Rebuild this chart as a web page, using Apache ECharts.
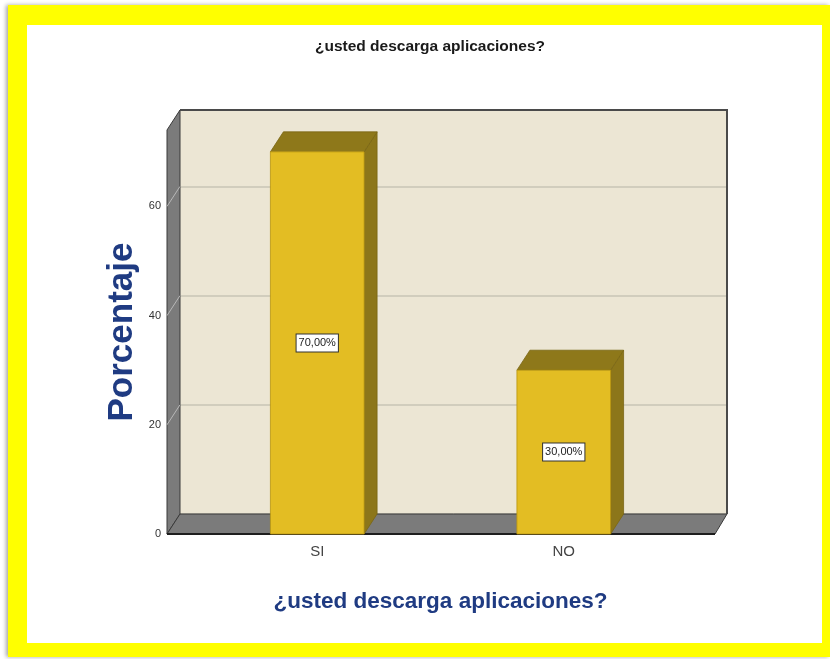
<!DOCTYPE html>
<html>
<head>
<meta charset="utf-8">
<script src="https://cdn.jsdelivr.net/npm/echarts@6/dist/echarts.min.js"></script>
<style>
html,body{margin:0;padding:0;background:#ffffff;}
#chart{width:830px;height:659px;}
</style>
</head>
<body>
<div id="chart"></div>
<script>
const categories = ['SI', 'NO'];
const percentages = [70, 30];
const yTicks = [0, 20, 40, 60];
const titleText = '¿usted descarga aplicaciones?';
const xAxisTitle = '¿usted descarga aplicaciones?';
const yAxisTitle = 'Porcentaje';

const DX = 13, DY = -20;
const chart = echarts.init(document.getElementById('chart'), null, {renderer: 'canvas'});

function fmt(v) { return v.toFixed(2).replace('.', ',') + '%'; }

const option = {
  animation: false,
  backgroundColor: '#ffffff',
  title: {
    text: titleText,
    left: 425, top: 34, textAlign: 'center',
    textStyle: {fontFamily: 'Liberation Sans, Arial, sans-serif', fontSize: 15.5, fontWeight: 'bold', color: '#1a1a1a'}
  },
  graphic: {elements: [
    {type: 'rect', z: -20, shape: {x: 8, y: 5, width: 822, height: 652},
     style: {fill: '#ffff00', shadowBlur: 4, shadowColor: 'rgba(0,0,0,0.35)', shadowOffsetX: -2}},
    {type: 'rect', z: -19, shape: {x: 27, y: 25, width: 795, height: 618}, style: {fill: '#ffffff'}}
  ]},
  grid: [
    {left: 194, right: 143, top: 130, bottom: 125},
    {left: 180, right: 103, top: 110, bottom: 145, show: true, backgroundColor: '#ece6d4', borderWidth: 0}
  ],
  xAxis: [
    {type: 'category', gridIndex: 0, data: categories,
     axisLine: {show: false}, axisTick: {show: false},
     axisLabel: {margin: 10, fontSize: 15, color: '#444', fontFamily: 'Liberation Sans, Arial, sans-serif'},
     name: xAxisTitle, nameLocation: 'middle', nameGap: 56, nameMoveOverlap: false,
     nameTextStyle: {fontSize: 22.5, fontWeight: 'bold', color: '#1f3b82', fontFamily: 'Liberation Sans, Arial, sans-serif'}},
    {type: 'category', gridIndex: 1, data: categories, show: false}
  ],
  yAxis: [
    {type: 'value', gridIndex: 0, min: 0, max: 74, interval: 20,
     axisLine: {show: false}, axisTick: {show: false}, splitLine: {show: false},
     axisLabel: {margin: 33, fontSize: 11, color: '#333', showMaxLabel: false,
       fontFamily: 'Liberation Sans Narrow, Arial Narrow, sans-serif'},
     name: yAxisTitle, nameLocation: 'middle', nameGap: 54, nameMoveOverlap: false,
     nameTextStyle: {fontSize: 35, fontWeight: 'bold', color: '#1f3b82', fontFamily: 'Liberation Sans, Arial, sans-serif'}},
    {type: 'value', gridIndex: 1, min: 0, max: 74, interval: 20,
     axisLine: {show: false}, axisTick: {show: false}, axisLabel: {show: false},
     splitLine: {show: true, showMaxLine: false, lineStyle: {color: '#c9c4b6', width: 1.5}}}
  ],
  series: [
    {
      type: 'custom', xAxisIndex: 0, yAxisIndex: 0, z: 1, silent: true,
      data: [[0]],
      renderItem: function (params, api) {
        const cs = params.coordSys;
        const X0 = cs.x - 27, X1 = cs.x + cs.width + 28;
        const yTop = cs.y, yBot = cs.y + cs.height;
        const children = [];
        children.push({type: 'polygon', shape: {points: [[X0, yTop], [X0 + DX, yTop + DY], [X0 + DX, yBot + DY], [X0, yBot]]},
          style: {fill: '#7b7b7b', stroke: '#3a3a3a', lineWidth: 1}});
        children.push({type: 'polygon', shape: {points: [[X0, yBot], [X0 + DX, yBot + DY], [X1 + DX - 1, yBot + DY], [X1, yBot]]},
          style: {fill: '#7b7b7b', stroke: '#3a3a3a', lineWidth: 1}});
        yTicks.forEach(function (t) {
          if (t === 0) return;
          const p = api.coord([0, t]);
          children.push({type: 'line', shape: {x1: X0, y1: p[1], x2: X0 + DX, y2: p[1] + DY},
            style: {stroke: '#b8b8b8', lineWidth: 1}});
        });
        children.push({type: 'line', shape: {x1: X0, y1: yBot, x2: X1, y2: yBot}, style: {stroke: '#1e1e1e', lineWidth: 2}});
        children.push({type: 'polyline', shape: {points: [[X0 + DX, yTop + DY], [X1 + DX - 1, yTop + DY], [X1 + DX - 1, yBot + DY]]},
          style: {stroke: '#4a4a4a', lineWidth: 2, fill: null}});
        return {type: 'group', children: children};
      }
    },
    {
      type: 'custom', xAxisIndex: 0, yAxisIndex: 0, z: 5,
      data: categories.map(function (c, i) { return [c, percentages[i]]; }),
      encode: {x: 0, y: 1},
      renderItem: function (params, api) {
        const v = api.value(1);
        const base = api.coord([api.value(0), 0]);
        const top = api.coord([api.value(0), v]);
        const band = api.size([1, 0])[0];
        const w = band * 0.38;
        const x0 = base[0] - w / 2, x1 = base[0] + w / 2;
        const yT = top[1], yB = base[1];
        return {type: 'group', children: [
          {type: 'polygon', shape: {points: [[x1, yT], [x1 + DX, yT + DY], [x1 + DX, yB + DY], [x1, yB]]},
           style: {fill: '#8c761a', stroke: '#7a6614', lineWidth: 0.8}},
          {type: 'polygon', shape: {points: [[x0, yT], [x0 + DX, yT + DY], [x1 + DX, yT + DY], [x1, yT]]},
           style: {fill: '#8e781a', stroke: '#7a6614', lineWidth: 0.8}},
          {type: 'rect', shape: {x: x0, y: yT, width: w, height: yB - yT},
           style: {fill: '#e3bd23', stroke: '#b9960f', lineWidth: 0.8}},
          {type: 'text', style: {text: fmt(v), x: base[0], y: (yT + yB) / 2, align: 'center', verticalAlign: 'middle',
            font: '11px "Liberation Sans Narrow", "Arial Narrow", sans-serif', fill: '#222',
            backgroundColor: '#ffffff', borderColor: '#333', borderWidth: 1, padding: [3, 2, 3, 2]}}
        ]};
      }
    }
  ]
};
chart.setOption(option);
</script>
</body>
</html>
